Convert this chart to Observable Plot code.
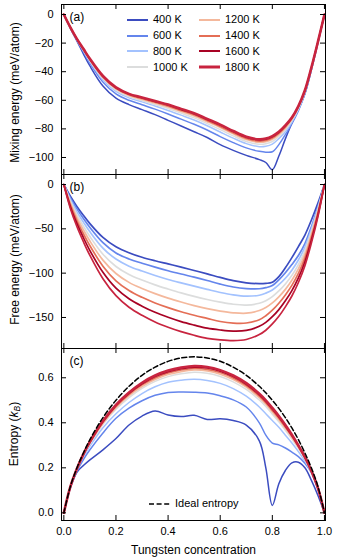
<!DOCTYPE html>
<html><head><meta charset="utf-8">
<script src="https://cdn.jsdelivr.net/npm/d3@7"></script>
<script src="https://cdn.jsdelivr.net/npm/@observablehq/plot@0.6"></script>
<style>
body{margin:0;background:#fff;}
#wrap{position:relative;width:340px;height:560px;background:#fff;font-family:'Liberation Sans',Arial,Helvetica,sans-serif;color:#000;overflow:hidden;}
.panel{position:absolute;left:0;}
.panel svg{display:block;overflow:visible;}
.leg{position:absolute;display:grid;grid-template-columns:72px 72px;grid-auto-rows:15.8px;font-size:11px;line-height:1;}
.item{display:flex;align-items:center;white-space:nowrap;}
.item svg{margin-right:5px;flex:none;}
</style></head><body>
<div id="wrap">
<div id="pa" class="panel" style="top:0"></div>
<div id="pb" class="panel" style="top:174px"></div>
<div id="pc" class="panel" style="top:348px"></div>
<div id="legT" class="leg" style="left:127px;top:12px"></div>
<div id="legI" class="leg" style="left:149px;top:496px;grid-template-columns:120px"></div>
</div>
<script>
// ---- data ----
const conc = [0, .025, .05, .075, .1, .15, .2, .25, .3, .35, .4, .45, .5, .55, .6, .65, .7, .75, .775, .8, .825, .85, .875, .9, .925, .95, .975, 1];
const temps = [400, 600, 800, 1000, 1200, 1400, 1600, 1800];
const colors = ["#3b4cc0", "#6485ec", "#a3c2fe", "#dcdddd", "#f4b89c", "#e46e56", "#a80224", "#c8243f"];

// (a) mixing energy, meV/atom
const mix400  = [0, -9.5, -18.5, -27.5, -36, -50, -58.5, -63, -66.5, -70, -74, -78, -82, -86, -91, -95, -98.5, -101.5, -103.5, -108.5, -99, -87, -76, -66.5, -55.5, -38.7, -19.9, 0];
const mix600  = [0, -9.3, -17.9, -26.1, -34, -47.2, -55.5, -60, -63.1, -66.2, -69.6, -73.2, -76.8, -80.8, -85.4, -89.6, -93.3, -95.7, -96.3, -96, -91, -84, -76.3, -67.2, -55.3, -38.4, -19.6, 0];
const mix800  = [0, -9.2, -17.6, -25.3, -32.9, -45.6, -53.8, -58.3, -61.1, -64, -67.1, -70.4, -73.8, -77.8, -82.2, -86.5, -90.3, -92.5, -92.2, -90.6, -86.8, -82, -75.2, -66.4, -54.7, -38, -19.4, 0];
const mix1000 = [0, -9.1, -17.4, -24.9, -32.3, -44.8, -52.9, -57.4, -60.1, -62.9, -65.8, -69, -72.3, -76.3, -80.5, -84.9, -88.8, -90.8, -90.4, -88.8, -85.3, -80.6, -74.2, -65.7, -54.2, -37.7, -19.3, 0];
const mix1200 = [0, -9.1, -17.2, -24.5, -31.8, -44.1, -52.1, -56.6, -59.3, -61.9, -64.7, -67.8, -71, -75, -79.1, -83.5, -87.5, -89.4, -89, -87.3, -84, -79.5, -73.4, -65.1, -53.8, -37.5, -19.2, 0];
const mix1400 = [0, -9, -17.1, -24.3, -31.5, -43.6, -51.7, -56.2, -58.8, -61.4, -64, -67.1, -70.2, -74.2, -78.3, -82.7, -86.7, -88.6, -88.1, -86.4, -83.1, -78.7, -72.8, -64.7, -53.5, -37.3, -19.1, 0];
const mix1600 = [0, -9, -17, -24.1, -31.2, -43.2, -51.2, -55.7, -58.3, -60.8, -63.3, -66.4, -69.4, -73.4, -77.4, -81.9, -85.9, -87.7, -87.2, -85.5, -82.4, -78, -72.3, -64.3, -53.2, -37.1, -19, 0];
const mix1800 = [0, -9, -17, -24, -31, -43, -51, -55.5, -58, -60.5, -63, -66, -69, -73, -77, -81.5, -85.5, -87.3, -86.8, -85, -82, -77.5, -72, -64, -53, -37, -19, 0];

// (b) free energy, meV/atom
const free400  = [0, -13.3, -24.7, -34.7, -44.1, -59.7, -70.3, -77, -82, -86, -89.6, -93.2, -97, -100.8, -104.8, -108.4, -110.9, -111.8, -111.5, -110.3, -104, -94, -82.5, -70, -57, -40, -21, 0];
const free600  = [0, -15.1, -27.5, -38.4, -48.5, -65.6, -77.2, -84, -88.8, -93.2, -97.3, -101, -104.5, -108.3, -112.3, -115.6, -117.4, -117.6, -116.4, -114, -107.5, -99.5, -90.3, -80.1, -66.7, -47.6, -25.1, 0];
const free800  = [0, -17.1, -30.7, -42.4, -53.3, -71.7, -84.1, -92.1, -97.6, -102.6, -107.1, -111, -114.7, -118.3, -121.8, -124.6, -126, -124.9, -122.5, -118.9, -113, -105.8, -96.6, -85.2, -70.6, -50.4, -26.8, 0];
const free1000 = [0, -19, -34, -46.9, -58.7, -78.7, -92.5, -101.5, -107.8, -113.2, -117.9, -122.3, -126.2, -129.7, -132.7, -135.1, -136, -134, -131.1, -126.5, -120.1, -112.2, -102.5, -90.3, -74.8, -53.4, -28.6, 0];
const free1200 = [0, -21, -37.3, -51.1, -63.8, -85.3, -100.4, -110.4, -117.3, -123.1, -128.2, -132.6, -136.6, -140.1, -142.8, -144.7, -145.2, -142.2, -138.8, -133.6, -126.7, -118.3, -108, -95.2, -78.8, -56.4, -30.5, 0];
const free1400 = [0, -23, -40.6, -55.5, -69.1, -92.1, -108.6, -119.6, -127.3, -133.6, -138.9, -143.6, -147.5, -151, -154.5, -156.3, -156.2, -152.5, -148, -141.8, -134, -124.6, -113.8, -100.3, -82.9, -59.5, -32.2, 0];
const free1600 = [0, -25, -43.9, -60, -74.5, -99.1, -117, -128.9, -137.3, -144.2, -149.8, -154.7, -158.6, -162.1, -164.1, -165.3, -164.6, -160, -155.5, -149.1, -141.1, -131.2, -119.7, -105.4, -87.1, -62.6, -34.2, 0];
const free1800 = [0, -27, -47.4, -64.5, -80, -106.3, -125.4, -138.5, -147.6, -155.1, -161, -166, -170.1, -173.5, -175.3, -176.1, -174.8, -169.3, -164.4, -157.3, -148.7, -138, -125.8, -110.5, -91.5, -65.8, -36.1, 0];

// (c) entropy, kB
const ent400  = [0, .11, .18, .21, .235, .28, .33, .39, .43, .452, .435, .428, .433, .415, .418, .41, .39, .32, .2, .033, .129, .188, .222, .225, .2, .144, .077, 0];
const ent600  = [0, .113, .185, .237, .28, .355, .42, .465, .498, .522, .535, .537, .536, .532, .52, .502, .47, .4, .345, .31, .302, .288, .27, .25, .22, .178, .106, 0];
const ent800  = [0, .114, .19, .248, .296, .378, .44, .49, .53, .56, .58, .589, .593, .588, .575, .552, .518, .47, .44, .41, .38, .345, .31, .272, .23, .18, .107, 0];
const ent1000 = [0, .115, .193, .255, .306, .393, .460, .512, .553, .584, .605, .618, .625, .620, .606, .582, .548, .501, .472, .438, .404, .367, .328, .286, .239, .182, .108, 0];
const ent1200 = [0, .115, .194, .257, .309, .398, .467, .520, .561, .592, .614, .627, .634, .630, .616, .592, .558, .511, .482, .448, .413, .375, .335, .291, .242, .183, .109, 0];
const ent1400 = [0, .116, .195, .259, .312, .402, .472, .526, .568, .599, .621, .634, .641, .637, .623, .599, .565, .518, .489, .455, .420, .381, .340, .295, .244, .184, .109, 0];
const ent1600 = [0, .116, .195, .26, .314, .405, .477, .531, .573, .605, .627, .640, .647, .643, .629, .605, .571, .524, .495, .461, .426, .386, .344, .298, .246, .185, .110, 0];
const ent1800 = [0, .116, .196, .261, .316, .408, .480, .535, .578, .610, .632, .645, .652, .648, .634, .610, .576, .529, .500, .466, .430, .390, .347, .300, .248, .186, .110, 0];
const entIdeal = [0, .117, .199, .266, .325, .423, .500, .562, .611, .647, .673, .688, .693, .688, .673, .647, .611, .562, .533, .500, .464, .423, .377, .325, .266, .199, .117, 0];

const xTicks = [0, 0.2, 0.4, 0.6, 0.8, 1.0];
const yTicksA = [0, -20, -40, -60, -80, -100];
const yTicksB = [0, -50, -100, -150];
const yTicksC = [0, 0.2, 0.4, 0.6];

// ---- drawing ----
const FONT = "'Liberation Sans', Arial, Helvetica, sans-serif";
const W = 340, ML = 61, MR = 15, innerW = W - ML - MR, TICK = 5;
const minus = d => d < 0 ? "\u2212" + Math.abs(d) : String(d);

function panel({series, widths, yDomain, yTicks, yFormat, tag, ylabel, height, mt, mb, bottomAxis, extra = [], ylabelDy = 0}) {
  const innerH = height - mt - mb;
  const marks = [];
  series.forEach((arr, k) => {
    marks.push(Plot.line(conc.map((x, i) => ({x, y: arr[i]})),
      {x: "x", y: "y", stroke: colors[k], strokeWidth: widths[k], curve: "catmull-rom"}));
  });
  marks.push(...extra);
  marks.push(Plot.frame({stroke: "black", strokeWidth: 1}));
  marks.push(Plot.tickX(xTicks, {x: d => d, insetTop: innerH - TICK, stroke: "black"}));
  marks.push(Plot.tickX(xTicks, {x: d => d, insetBottom: innerH - TICK, stroke: "black"}));
  marks.push(Plot.tickY(yTicks, {y: d => d, insetRight: innerW - TICK, stroke: "black"}));
  marks.push(Plot.tickY(yTicks, {y: d => d, insetLeft: innerW - TICK, stroke: "black"}));
  marks.push(Plot.axisY({ticks: yTicks, tickSize: 0, tickPadding: 8, tickFormat: yFormat, label: null, fontSize: 11}));
  if (bottomAxis) {
    marks.push(Plot.axisX({ticks: xTicks, tickSize: 0, tickPadding: 7, tickFormat: d => d.toFixed(1), label: null, fontSize: 11}));
    marks.push(Plot.text(["Tungsten concentration"], {frameAnchor: "bottom", dy: 30, text: d => d, fontSize: 12, lineAnchor: "middle", textAnchor: "middle"}));
  }
  marks.push(Plot.text([tag], {frameAnchor: "top-left", dx: 8, dy: 13, text: d => d, fontSize: 12, lineAnchor: "middle", textAnchor: "start"}));
  if (ylabel) marks.push(Plot.text([ylabel], {frameAnchor: "left", dx: -46, dy: ylabelDy, rotate: -90, text: d => d, fontSize: 12, textAnchor: "middle", lineAnchor: "middle"}));
  return Plot.plot({
    width: W, height, marginLeft: ML, marginRight: MR, marginTop: mt, marginBottom: mb,
    x: {domain: [-0.009, 1.004], label: null, ...(bottomAxis ? {} : {axis: null})},
    y: {domain: yDomain, label: null},
    style: {fontFamily: FONT, fontSize: "11px", background: "transparent", overflow: "visible", display: "block"},
    marks
  });
}

const thin = 1.5;
const wA = [thin, thin, thin, thin, thin, thin, thin, 2.6];
const wB = [1.7, 1.7, 1.7, 1.7, 1.7, 1.7, 1.7, 1.7];

document.getElementById("pa").append(panel({
  series: [mix400, mix600, mix800, mix1000, mix1200, mix1400, mix1600, mix1800],
  widths: wA, yDomain: [-111.9, 7.0], yTicks: yTicksA, yFormat: minus,
  tag: "(a)", ylabel: "Mixing energy (meV/atom)", height: 174, mt: 4, mb: 0, ylabelDy: 3
}));

document.getElementById("pb").append(panel({
  series: [free400, free600, free800, free1000, free1200, free1400, free1600, free1800],
  widths: wB, yDomain: [-185, 11.3], yTicks: yTicksB, yFormat: minus,
  tag: "(b)", ylabel: "Free energy (meV/atom)", height: 174, mt: 0, mb: 0, ylabelDy: -2
}));

const svgC = panel({
  series: [ent400, ent600, ent800, ent1000, ent1200, ent1400, ent1600, ent1800],
  widths: wA, yDomain: [-0.034, 0.730], yTicks: yTicksC, yFormat: d => d.toFixed(1),
  tag: "(c)", ylabel: null, height: 212, mt: 0, mb: 40, bottomAxis: true,
  extra: [Plot.line(conc.map((x, i) => ({x, y: entIdeal[i]})),
    {x: "x", y: "y", stroke: "black", strokeWidth: 1.5, strokeDasharray: "5,2.6", curve: "catmull-rom"})]
});
document.getElementById("pc").append(svgC);

// entropy axis label with italic k and subscript B
const lab = d3.select(svgC).append("text")
  .attr("transform", `translate(15,${172 / 2}) rotate(-90)`)
  .attr("text-anchor", "middle").attr("dominant-baseline", "middle")
  .attr("font-size", 12).attr("font-family", FONT).attr("fill", "black");
lab.append("tspan").text("Entropy (");
lab.append("tspan").attr("font-style", "italic").text("k");
lab.append("tspan").attr("font-size", 8.5).attr("font-style", "italic").attr("dy", 3).text("B");
lab.append("tspan").attr("dy", -3).text(")");

// temperature legend (column-major: 400..1000 left, 1200..1800 right)
const legT = document.getElementById("legT");
legT.style.gridAutoFlow = "column";
legT.style.gridTemplateRows = "repeat(4, 15.8px)";
temps.forEach((t, k) => {
  const it = document.createElement("div");
  it.className = "item";
  const sw = k === 7 ? 3 : 2;
  it.innerHTML = `<svg width="21" height="6"><line x1="0" x2="21" y1="3" y2="3" stroke="${colors[k]}" stroke-width="${sw}"/></svg><span>${t} K</span>`;
  legT.append(it);
});

const legI = document.getElementById("legI");
const ii = document.createElement("div");
ii.className = "item";
ii.innerHTML = `<svg width="21" height="6"><line x1="0" x2="21" y1="3" y2="3" stroke="black" stroke-width="1.5" stroke-dasharray="5,2.6"/></svg><span>Ideal entropy</span>`;
legI.append(ii);
</script>
</body></html>
